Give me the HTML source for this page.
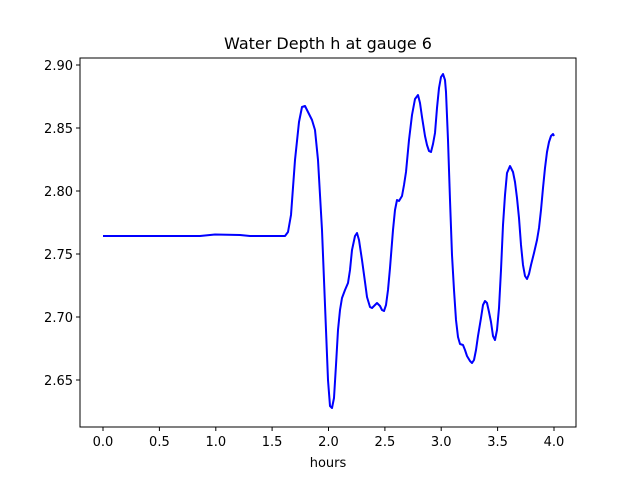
<!DOCTYPE html>
<html><head><meta charset="utf-8"><style>body{margin:0;background:#fff}svg{display:block}text{font-family:"DejaVu Sans","Liberation Sans",sans-serif;font-size:13px;fill:#000}</style></head>
<body>
<svg width="640" height="480" viewBox="0 0 640 480">
<rect x="0" y="0" width="640" height="480" fill="#fff"/>
<text x="328" y="49" text-anchor="middle" style="font-size:16px">Water Depth h at gauge 6</text>
<polyline fill="none" stroke="#0000ff" stroke-width="2" stroke-linejoin="round" points="103,236 200,236 215,234.5 240,235 250,236 285,236 288,232 291,215 295,160 299,122 302,107 305,106 308,112 312,120 315,130 318,160 320,195 322,230 324,280 326,330 328,380 330,406 332,408 334,398 336,365 338,330 340,310 342,298 345,290 348,283 350,270 352,250 355,236 357,233 359,240 362,260 365,282 367,297 370,307 372,308 375,305 377,303 380,306 382,310 384,311 386,305 388,290 390,268 393,230 395,210 397,200 399,201 402,196 404,185 406,172 409,140 412,115 415,99 418,95 420,103 422,117 425,136 427,145 429,151 431,152 433,144 435,133 437,108 439,88 441,77 443,74 445,80 446,92 448,140 450,200 452,255 454,290 456,320 458,337 460,344 463,345 465,350 467,356 470,361 472,363 474,360 476,350 478,336 481,318 483,305 485,301 487,303 489,312 491,322 493,336 495,340 497,330 499,308 501,270 503,225 505,195 507,173 510,166 513,172 515,182 517,198 519,218 521,245 523,265 525,276 527,279 529,274 531,265 534,253 537,240 539,228 541,210 543,188 545,168 547,152 549,142 551,136 553,134 554,136"/>
<rect x="80" y="58" width="496" height="369" fill="none" stroke="#000" stroke-width="1"/>
<g stroke="#000" stroke-width="1">
<line x1="103" y1="427" x2="103" y2="431"/><line x1="159.4" y1="427" x2="159.4" y2="431"/><line x1="215.8" y1="427" x2="215.8" y2="431"/><line x1="272.1" y1="427" x2="272.1" y2="431"/><line x1="328.5" y1="427" x2="328.5" y2="431"/><line x1="384.9" y1="427" x2="384.9" y2="431"/><line x1="441.2" y1="427" x2="441.2" y2="431"/><line x1="497.6" y1="427" x2="497.6" y2="431"/><line x1="554" y1="427" x2="554" y2="431"/>
<line x1="76" y1="65" x2="80" y2="65"/><line x1="76" y1="128" x2="80" y2="128"/><line x1="76" y1="191" x2="80" y2="191"/><line x1="76" y1="254" x2="80" y2="254"/><line x1="76" y1="317" x2="80" y2="317"/><line x1="76" y1="380" x2="80" y2="380"/>
</g>
<g text-anchor="middle">
<text x="103" y="446">0.0</text><text x="159.4" y="446">0.5</text><text x="215.8" y="446">1.0</text><text x="272.1" y="446">1.5</text><text x="328.5" y="446">2.0</text><text x="384.9" y="446">2.5</text><text x="441.2" y="446">3.0</text><text x="497.6" y="446">3.5</text><text x="554" y="446">4.0</text>
<text x="328" y="467">hours</text>
</g>
<g text-anchor="end">
<text x="73" y="70">2.90</text><text x="73" y="133">2.85</text><text x="73" y="196">2.80</text><text x="73" y="259">2.75</text><text x="73" y="322">2.70</text><text x="73" y="385">2.65</text>
</g>
</svg>
</body></html>
